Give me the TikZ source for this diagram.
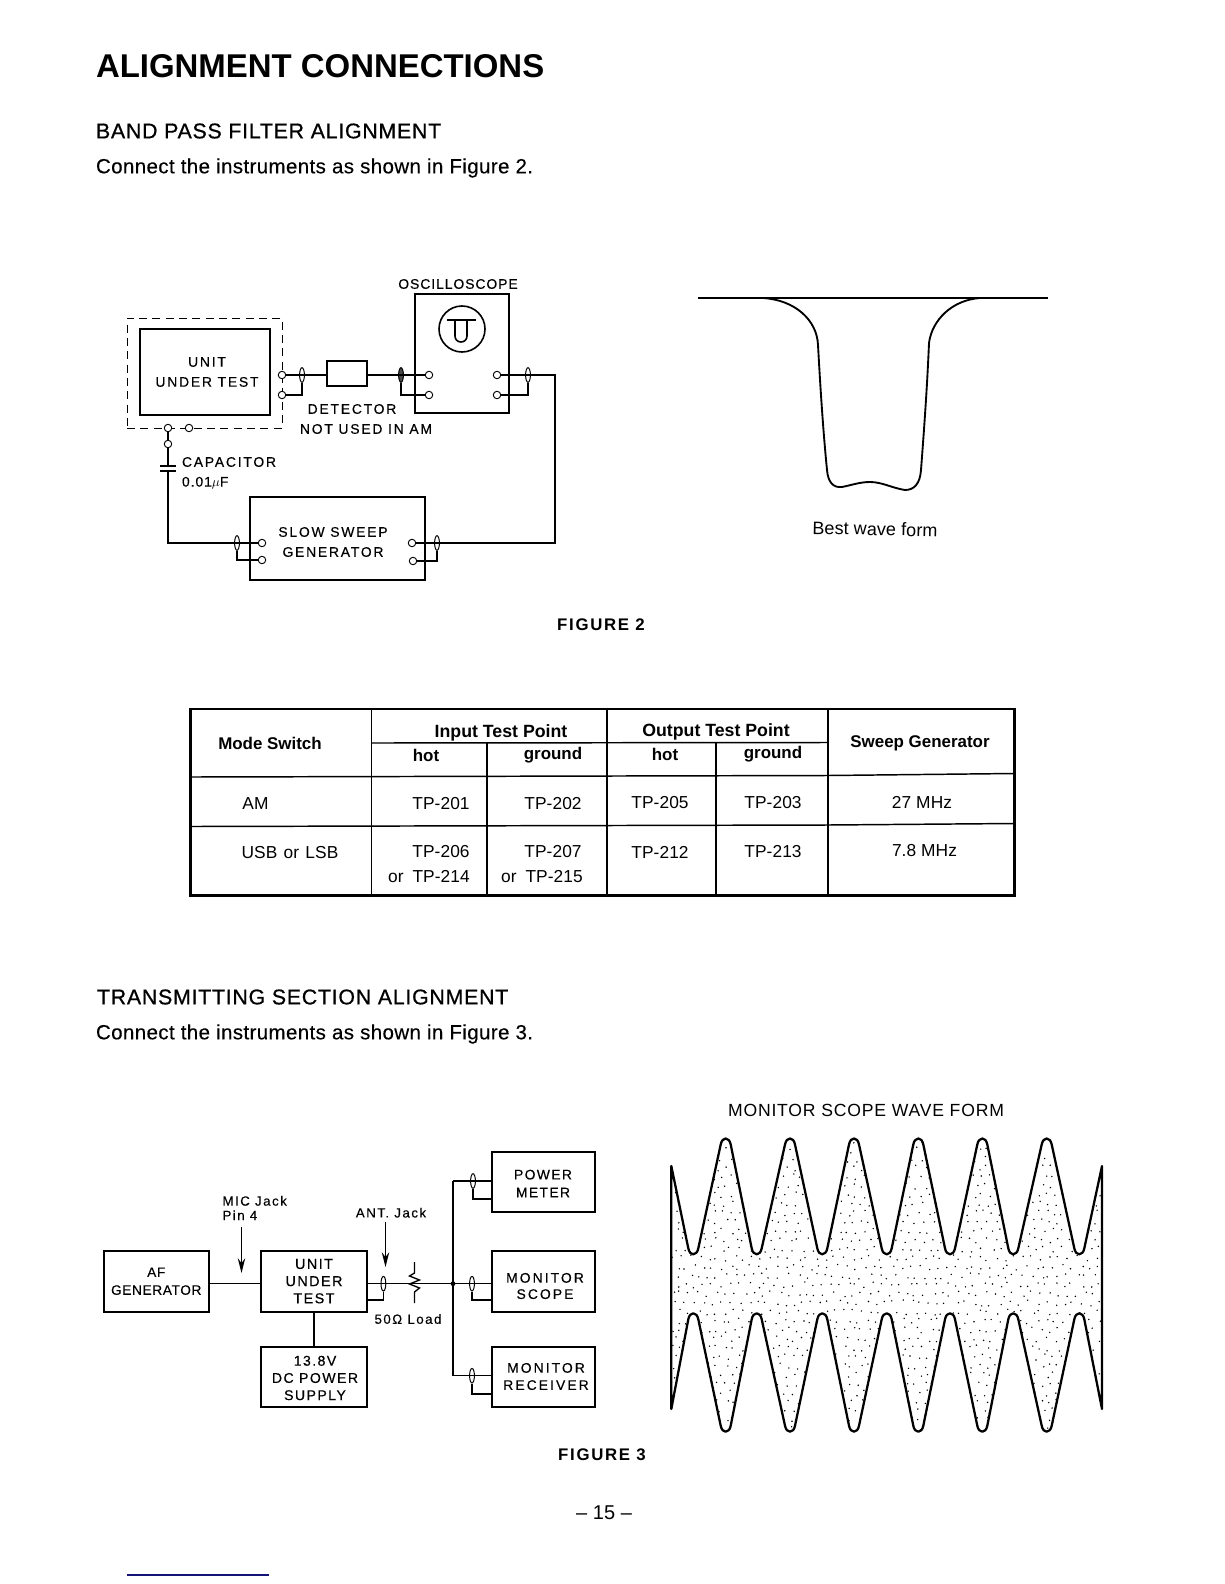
\documentclass[tikz,border=0pt]{standalone}
\usepackage{fontspec}
\setmainfont{Liberation Sans}
\newfontfamily\titlefont{Liberation Sans Bold}
\newfontfamily\headfont[LetterSpace=3.5,FakeBold=0.7]{Liberation Sans}
\newfontfamily\parafont[LetterSpace=1.8,FakeBold=0.2]{Liberation Sans}
\newfontfamily\labfont[LetterSpace=7,FakeBold=0.3]{Liberation Sans}
\newfontfamily\labfontw[LetterSpace=13,FakeBold=0.3]{Liberation Sans}
\newfontfamily\labfontb[LetterSpace=5,FakeBold=0.3]{Liberation Sans}
\newfontfamily\labfontc[LetterSpace=10,FakeBold=0.3]{Liberation Sans}
\newfontfamily\labfontd[LetterSpace=15,FakeBold=0.3]{Liberation Sans}
\newfontfamily\smallfont[LetterSpace=11,FakeBold=0.2]{Liberation Sans}
\newfontfamily\monfont[LetterSpace=4.5]{Liberation Sans}
\newfontfamily\figfont[LetterSpace=10]{Liberation Sans Bold}
\newfontfamily\tablefont[LetterSpace=0.5]{Liberation Sans}
\newfontfamily\tablefontb{Liberation Sans Bold}
\usetikzlibrary{arrows.meta,shapes.geometric,calc}
\tikzset{
  x=0.75pt,y=-0.75pt,
  txt/.style={inner sep=0pt,outer sep=0pt,text=black},
  title/.style={txt,anchor=west,font=\titlefont\fontsize{24.7}{28}\selectfont},
  heading/.style={txt,anchor=west,font=\headfont\fontsize{16}{18}\selectfont},
  para/.style={txt,anchor=west,font=\parafont\fontsize{15.4}{18}\selectfont},
  figlabel/.style={txt,font=\figfont\fontsize{12.6}{15}\selectfont},
  lab/.style={txt,font=\labfont\fontsize{10.4}{15}\selectfont},
  labw/.style={txt,font=\labfontw\fontsize{10.4}{15}\selectfont},
  smalllab/.style={txt,font=\smallfont\fontsize{10}{10.8}\selectfont},
  tb/.style={txt,font=\tablefontb\fontsize{12.7}{15}\selectfont},
  tbh/.style={txt,font=\tablefontb\fontsize{13.3}{15}\selectfont},
  tr/.style={txt,font=\tablefont\fontsize{13}{15}\selectfont},
  blockbox/.style={draw,line width=1.5pt,inner sep=0pt,align=center,fill=white},
  term/.style={circle,draw,fill=white,line width=.7pt,inner sep=0pt,minimum size=5.6pt},
  cable/.style={ellipse,draw,line width=.75pt,inner sep=0pt,minimum width=3.6pt,minimum height=11pt},
  wire/.style={line width=.85pt},
  thinwire/.style={line width=.8pt},
  inarrow/.style={line width=1.3pt,-{Stealth[length=11pt,width=5.5pt]}},
  wavec/.style={line width=1.7pt,line join=round},
  rule/.style={line width=1.1pt},
  outer/.style={line width=2pt}
}
\newcommand{\blocknode}[7][]{%
  \node[blockbox,#1,minimum width={(#5-#3)*0.75pt},minimum height={(#6-#4)*0.75pt}] (#2) at ({(#3+#5)/2},{(#4+#6)/2}) {#7};}
\begin{document}
\begin{tikzpicture}
\useasboundingbox (0,0) rectangle (1224,1584);
\fill[white] (0,0) rectangle (1224,1584);

% Headings
\node[title] (ttl) at (96,66) {ALIGNMENT CONNECTIONS};
\node[heading] (h1) at (96,131) {BAND PASS FILTER ALIGNMENT};
\node[para] (p1) at (96,168) {Connect the instruments as shown in Figure 2.};
\node[heading] (h2) at (97,997) {TRANSMITTING SECTION ALIGNMENT};
\node[para] (p2) at (96,1034) {Connect the instruments as shown in Figure 3.};

% Figure 2 diagram
\node[draw,line width=.6pt,dash pattern=on 6pt off 4pt,inner sep=0pt,minimum width={155*0.75pt},minimum height={110*0.75pt}] (dashbox) at (204.5,373) {};
\blocknode{uut}{140}{329}{270}{415}{}
\node[labw,align=center] (uutt) at (207,372) {UNIT\\UNDER TEST};
\blocknode{scope}{415}{294}{509}{413}{}
\blocknode[line width=1.3pt]{det}{327}{361}{367}{386}{}
\blocknode{gen}{250}{497}{425}{580}{}
\node[labw,align=center] (gent) at (333,542) {SLOW SWEEP\\GENERATOR};
\node[lab] (oscl) at (458,284) {OSCILLOSCOPE};
\node[labw] (detl) at (352,409) {DETECTOR};
\node[labw] (nual) at (366,429) {NOT USED IN AM};
\node[labw,anchor=west] (capl) at (182,462) {CAPACITOR};
\node[lab,anchor=west] (capv) at (182,483) {0.01$\mu$F};

% tube symbol
\node[circle,draw,line width=1.2pt,inner sep=0pt,minimum size={46*0.75pt}] (tube) at (462,329) {};
\coordinate (tbl) at (447,320); \coordinate (tbr) at (476,320);
\coordinate (tul) at (455,320); \coordinate (tur) at (467,320);
\draw[line width=1.2pt] (tbl) -- (tbr);
\draw[line width=1.2pt,rounded corners=4.4pt] (tul) -- (455,342) -- (467,342) -- (tur);

% terminals
\node[term] (ua) at (282,375) {};
\node[term] (ub) at (282,395) {};
\node[term] (sa) at (429,375) {};
\node[term] (sb) at (429,395) {};
\node[term] (sc) at (497,375) {};
\node[term] (sd) at (497,395) {};
\node[term] (ga) at (262,543) {};
\node[term] (gb) at (262,560) {};
\node[term] (gc) at (412,543) {};
\node[term] (gd) at (413,561) {};
\node[term] (ba) at (168,428) {};
\node[term] (bb) at (189,428) {};
\node[term] (bc) at (168,444) {};
% cables
\node[cable] (c1) at (302,375) {};
\node[cable,fill=black!70] (c2) at (401,375) {};
\node[cable] (c3) at (528,375) {};
\node[cable] (c4) at (237,543) {};
\node[cable] (c5) at (437,543) {};
\coordinate (cornerR) at (555,375);
\coordinate (capT) at (168,466);
\coordinate (capB) at (168,471);
% wires
\draw[wire] (ua) -- (c1.center) -- (c1 -| det.west);
\draw[wire] (ub) -| (c1);
\draw[wire] (c2 -| det.east) -- (c2.center) -- (sa);
\draw[wire] (sb) -| (c2);
\draw[wire] (sc) -- (c3.center) -- (cornerR) |- (c5.center) -- (gc);
\draw[wire] (sd) -| (c3);
\draw[wire] (gd) -| (c5);
\draw[wire] (ga) -- (c4.center);
\draw[wire] (gb) -| (c4);
\draw[wire] (ba) -- (bc);
\draw[wire] (bc) -- (capT);
\draw[wire] (capB) |- (c4.center);
\draw[line width=1.5pt] ($(capT)+(-8,0)$) -- ($(capT)+(8,0)$);
\draw[line width=1.5pt] ($(capB)+(-8,0)$) -- ($(capB)+(8,0)$);

% Best wave form
\coordinate (bl0) at (698,298); \coordinate (bl1) at (1048,298);
\draw[line width=1.4pt] (bl0) -- (bl1);
\draw[line width=1.4pt,line join=round]
  (763,298) .. controls (795,300) and (817,320) .. (818,345)
  .. controls (821,400) and (824,440) .. (827,470)
  .. controls (828,482) and (833,488) .. (842,487)
  .. controls (852,485) and (860,482) .. (870,482)
  .. controls (882,482) and (892,488) .. (905,490)
  .. controls (914,490) and (920,484) .. (921,470)
  .. controls (924,430) and (927,390) .. (929,343)
  .. controls (932,320) and (952,300) .. (980,298);
\node[txt,font=\tablefont\fontsize{13.5}{16}\selectfont,rotate=-1.2] (bwf) at (875,529) {Best wave form};
\node[figlabel] (fig2) at (601,625) {FIGURE 2};

% Table
\draw[outer] (190.7,709) rectangle (1014.5,895.7);
\coordinate (v1t) at (371.7,709); \coordinate (v1b) at (371.7,895.7);
\coordinate (v2t) at (487,743);   \coordinate (v2b) at (487,895.7);
\coordinate (v3t) at (607,709);   \coordinate (v3b) at (607,895.7);
\coordinate (v4t) at (716,743);   \coordinate (v4b) at (716,895.7);
\coordinate (v5t) at (828,709);   \coordinate (v5b) at (828,895.7);
\draw[rule] (v1t) -- (v1b);
\draw[rule] (v2t) -- (v2b);
\draw[rule] (v3t) -- (v3b);
\draw[rule] (v4t) -- (v4b);
\draw[rule] (v5t) -- (v5b);
\draw[rule] (371.7,743) -- (828,742.5);
\draw[rule] (190.7,777) -- (828,775.5) -- (1014.5,773.5);
\draw[rule] (190.7,826.5) -- (828,825) -- (1014.5,823.5);
\node[tb] (n1) at (270,743) {Mode Switch};
\node[tbh] (n2) at (501,733) {Input Test Point};
\node[tbh] (n3) at (716,732) {Output Test Point};
\node[tb] (n4) at (920,743) {Sweep Generator};
\node[tb] (n5) at (426,755) {hot};
\node[tb] (n6) at (553,755) {ground};
\node[tb] (n7) at (665,754) {hot};
\node[tb] (n8) at (773,754) {ground};
\node[tr] (n9) at (255.5,804) {AM};
\node[tr] (n10) at (441,804) {TP-201};
\node[tr] (n11) at (553,804) {TP-202};
\node[tr] (n12) at (660,802.5) {TP-205};
\node[tr] (n13) at (773,802.5) {TP-203};
\node[tr] (n14) at (922,802) {27 MHz};
\node[tr] (n15) at (290,853) {USB\hspace{1pt} or\hspace{1pt} LSB};
\node[tr] (n16) at (441,852) {TP-206};
\node[tr] (n17) at (553,852) {TP-207};
\node[tr] (n18) at (429,877) {or\hspace{3pt} TP-214};
\node[tr] (n19) at (542,877) {or\hspace{3pt} TP-215};
\node[tr] (n20) at (660,852) {TP-212};
\node[tr] (n21) at (773,852) {TP-213};
\node[tr] (n22) at (924.5,851) {7.8 MHz};

% Figure 3 diagram
\blocknode[font=\labfontb\fontsize{10.2}{13.4}\selectfont]{af}{103.5}{1250.7}{209}{1311.7}{AF\\GENERATOR}
\blocknode[font=\labfontc\fontsize{10.8}{12.9}\selectfont]{uutb}{261}{1250.7}{367}{1311.7}{UNIT\\UNDER\\TEST}
\blocknode[font=\labfontc\fontsize{10.6}{12.9}\selectfont]{dc}{261}{1347.3}{367}{1406.7}{}
\node[txt,align=center,font=\labfontc\fontsize{10.6}{12.9}\selectfont] (dct) at (315,1378) {13.8V\\DC POWER\\SUPPLY};
\blocknode{pm}{492}{1152}{595}{1212}{}
\node[txt,align=center,font=\labfontc\fontsize{10.4}{13.4}\selectfont] (pmt) at (543,1183.5) {POWER\\METER};
\blocknode{ms}{492}{1250.7}{595}{1311.7}{}
\node[txt,align=center,font=\labfontd\fontsize{10.4}{12.2}\selectfont] (mst) at (545,1286) {MONITOR\\SCOPE};
\blocknode{mr}{492}{1347.3}{595}{1406.7}{}
\node[txt,align=center,font=\labfontd\fontsize{10.4}{12.9}\selectfont] (mrt) at (546,1376.5) {MONITOR\\RECEIVER};
\node[smalllab,align=left,anchor=west] (mic) at (222.5,1208) {MIC Jack\\Pin 4};
\node[smalllab] (ant) at (391,1212.7) {ANT. Jack};
\node[smalllab] (load) at (408,1319) {50Ω Load};
\coordinate (micA) at (241.5,1227); \coordinate (micB) at (241.5,1273);
\coordinate (antA) at (385.5,1222); \coordinate (antB) at (385.5,1267);
\draw[inarrow] (micA) -- (micB);
\draw[inarrow] (antA) -- (antB);
\node[cable] (d1) at (383.4,1283.7) {};
\node[cable] (d2) at (473,1181) {};
\node[cable] (d3) at (472,1283.7) {};
\node[cable] (d4) at (472,1375.7) {};
\coordinate (junc) at (453,1283.7);
\coordinate (r0) at (414.5,1283.7);
\coordinate (uutw) at (367,1300);
\coordinate (vtop) at (453,1181);
\coordinate (vbot) at (453,1375.7);
\coordinate (pmA) at (492,1181); \coordinate (pmB) at (492,1199);
\coordinate (msA) at (492,1283.7); \coordinate (msB) at (492,1300);
\coordinate (mrA) at (492,1375.7); \coordinate (mrB) at (492,1394);
\draw[thinwire] (d1 -| af.east) -- (d1 -| uutb.west);
\draw[thinwire] (uutb.south) -- (dc.north);
\draw[wire] (d1 -| uutb.east) -- (d1.center) -- (r0) -- (junc) -- (d3.center) -- (msA);
\draw[wire] (uutw) -| (d1);
\draw[wire] (vtop) -- (vbot);
\draw[wire] (vtop) -- (d2.center) -- (pmA);
\draw[wire] (vbot) -- (d4.center) -- (mrA);
\draw[wire] (pmB) -| (d2);
\draw[wire] (msB) -| (d3);
\draw[wire] (mrB) -| (d4);
\fill (junc) circle[radius=1.8pt];
\draw[line width=1pt,line join=miter] (414.5,1262) -- (414.5,1273) -- (409.5,1276) -- (419.5,1280) -- (409.5,1284) -- (419.5,1288) -- (414.5,1292) -- (414.5,1303);
\node[figlabel] (fig3) at (602,1455) {FIGURE 3};

% Monitor scope wave form
\node[txt,font=\monfont\fontsize{13.2}{16}\selectfont] (mswf) at (866,1110) {MONITOR SCOPE WAVE FORM};
\def\wavepath{(671.3,1166)
  \foreach \x/\y/\s in {693.3/1254.3/1,725.7/1138.5/-1,756.7/1254.3/1,790/1138.5/-1,822.3/1254.3/1,854/1138.5/-1,886.7/1254.3/1,918.3/1138.5/-1,950/1254.3/1,982.3/1138.5/-1,1013.3/1254.3/1,1046.7/1138.5/-1,1079.3/1254.3/1}
  { -- ({\x-5},{\y-\s*6}) .. controls ({\x-3.5},{\y+\s*2}) and ({\x+3.5},{\y+\s*2}) .. ({\x+5},{\y-\s*6}) }
  -- (1102,1166) -- (1102,1409)
  \foreach \x/\y/\s in {1079.3/1313.3/-1,1046.7/1431.7/1,1013.3/1313.3/-1,982.3/1431.7/1,950/1313.3/-1,918.3/1431.7/1,886.7/1313.3/-1,854/1431.7/1,822.3/1313.3/-1,790/1431.7/1,756.7/1313.3/-1,725.7/1431.7/1,693.3/1313.3/-1}
  { -- ({\x+5},{\y-\s*6}) .. controls ({\x+3.5},{\y+\s*2}) and ({\x-3.5},{\y+\s*2}) .. ({\x-5},{\y-\s*6}) }
  -- (671.3,1409) -- cycle}
\begin{scope}
  \clip \wavepath;
  \pgfmathsetseed{7}
  \foreach \i in {0,...,48} \foreach \j in {0,...,34} {
    \pgfmathsetmacro\dotx{672+\i*9+mod(\j,2)*4.5+rnd*6-3}
    \pgfmathsetmacro\doty{1132+\j*9+rnd*6-3}
    \fill (\dotx,\doty) circle[radius=.6pt];
  }
\end{scope}
\draw[wavec] \wavepath;

\node[txt,font=\tablefont\fontsize{15}{17}\selectfont] (pg) at (604,1513) {– 15 –};
\coordinate (nl0) at (127,1575); \coordinate (nl1) at (269,1575);
\draw[line width=.9pt,color={rgb,255:red,20;green,20;blue,120}] (nl0) -- (nl1);
\end{tikzpicture}
\end{document}
